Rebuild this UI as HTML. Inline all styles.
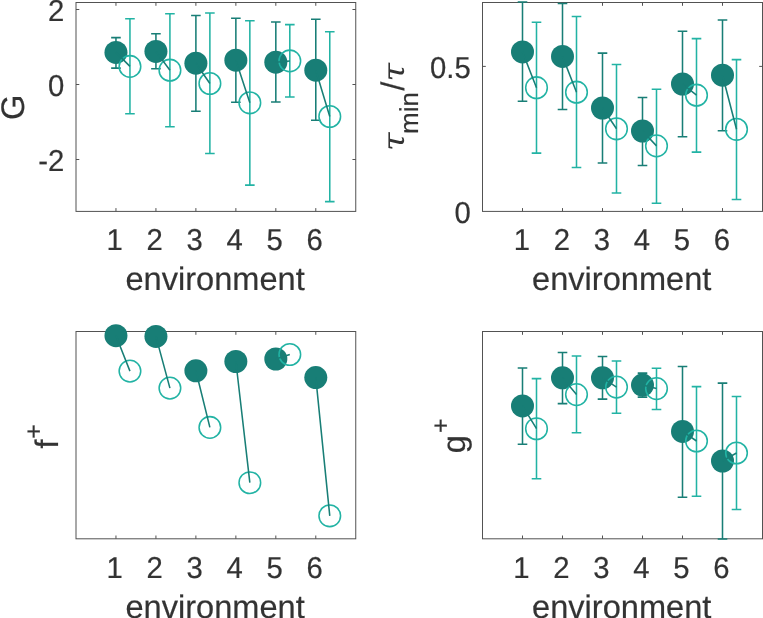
<!DOCTYPE html>
<html><head><meta charset="utf-8"><title>figure</title>
<style>
html,body{margin:0;padding:0;background:#fff;}
body{width:763px;height:618px;overflow:hidden;}
svg{display:block;font-family:"Liberation Sans",Arial,Helvetica,sans-serif;}
text{stroke:#333333;stroke-width:0.2px;text-rendering:geometricPrecision;}
</style></head><body>
<svg width="763" height="618" viewBox="0 0 763 618">
<rect width="763" height="618" fill="#fff"/>
<g id="TL">
<clipPath id="cTL"><rect x="75" y="1" width="281.75" height="211.9"/></clipPath>
<rect x="76" y="2.5" width="279.75" height="208.9" fill="none" stroke="#525252" stroke-width="1"/>
<path d="M115.96 211.4v-3.3M115.96 2.5v3.3M155.93 211.4v-3.3M155.93 2.5v3.3M195.89 211.4v-3.3M195.89 2.5v3.3M235.86 211.4v-3.3M235.86 2.5v3.3M275.82 211.4v-3.3M275.82 2.5v3.3M315.79 211.4v-3.3M315.79 2.5v3.3M76 9.5h3.3M355.75 9.5h-3.3M76 84.5h3.3M355.75 84.5h-3.3M76 159.5h3.3M355.75 159.5h-3.3" stroke="#525252" stroke-width="1" fill="none"/>
<path clip-path="url(#cTL)" d="M115.96 37.6V68.1M111.16 37.6h9.6M111.16 68.1h9.6M155.93 33.8V68.8M151.13 33.8h9.6M151.13 68.8h9.6M195.89 15.5V111.2M191.09 15.5h9.6M191.09 111.2h9.6M235.86 18.3V102.3M231.06 18.3h9.6M231.06 102.3h9.6M275.82 22V102M271.02 22h9.6M271.02 102h9.6M315.79 19.3V120.3M310.99 19.3h9.6M310.99 120.3h9.6" stroke="#187e76" stroke-width="1.55" fill="none"/>
<circle cx="115.96" cy="52.4" r="11.5" fill="#187e76"/>
<circle cx="155.93" cy="51.4" r="11.5" fill="#187e76"/>
<circle cx="195.89" cy="63.2" r="11.5" fill="#187e76"/>
<circle cx="235.86" cy="60.2" r="11.5" fill="#187e76"/>
<circle cx="275.82" cy="62.2" r="11.5" fill="#187e76"/>
<circle cx="315.79" cy="70.2" r="11.5" fill="#187e76"/>
<path clip-path="url(#cTL)" d="M129.95 18.8V113.7M125.15 18.8h9.6M125.15 113.7h9.6M169.92 13.8V126.7M165.12 13.8h9.6M165.12 126.7h9.6M209.88 13V153.4M205.08 13h9.6M205.08 153.4h9.6M249.84 20.8V185.1M245.04 20.8h9.6M245.04 185.1h9.6M289.81 24.6V97M285.01 24.6h9.6M285.01 97h9.6M329.77 31.8V201.6M324.97 31.8h9.6M324.97 201.6h9.6" stroke="#22b3a4" stroke-width="1.55" fill="none"/>
<circle cx="129.95" cy="66.4" r="10.8" fill="none" stroke="#22b3a4" stroke-width="1.55"/>
<circle cx="169.92" cy="70.2" r="10.8" fill="none" stroke="#22b3a4" stroke-width="1.55"/>
<circle cx="209.88" cy="83.5" r="10.8" fill="none" stroke="#22b3a4" stroke-width="1.55"/>
<circle cx="249.84" cy="102.8" r="10.8" fill="none" stroke="#22b3a4" stroke-width="1.55"/>
<circle cx="289.81" cy="60.9" r="10.8" fill="none" stroke="#22b3a4" stroke-width="1.55"/>
<circle cx="329.77" cy="116.5" r="10.8" fill="none" stroke="#22b3a4" stroke-width="1.55"/>
<path d="M115.96 52.4L129.95 66.4M155.93 51.4L169.92 70.2M195.89 63.2L209.88 83.5M235.86 60.2L249.84 102.8M275.82 62.2L289.81 60.9M315.79 70.2L329.77 116.5" stroke="#187e76" stroke-width="1.55" fill="none"/>
<g fill="#333333" font-size="29.3">
<text transform="translate(114.76 250.1) scale(1 1.03)" text-anchor="middle">1</text>
<text transform="translate(154.73 250.1) scale(1 1.03)" text-anchor="middle">2</text>
<text transform="translate(194.69 250.1) scale(1 1.03)" text-anchor="middle">3</text>
<text transform="translate(234.66 250.1) scale(1 1.03)" text-anchor="middle">4</text>
<text transform="translate(274.62 250.1) scale(1 1.03)" text-anchor="middle">5</text>
<text transform="translate(314.59 250.1) scale(1 1.03)" text-anchor="middle">6</text>
<text transform="translate(64.3 20.9) scale(1 1.03)" text-anchor="end">2</text>
<text transform="translate(64.3 95.9) scale(1 1.03)" text-anchor="end">0</text>
<text transform="translate(64.3 170.9) scale(1 1.03)" text-anchor="end">-2</text>
</g>
<text x="215.07" y="289.9" text-anchor="middle" font-size="32.6" fill="#333333">environment</text>
</g>
<g id="TR">
<clipPath id="cTR"><rect x="481.5" y="1" width="282" height="211.9"/></clipPath>
<rect x="482.5" y="2.5" width="280" height="208.9" fill="none" stroke="#525252" stroke-width="1"/>
<path d="M522.5 211.4v-3.3M522.5 2.5v3.3M562.5 211.4v-3.3M562.5 2.5v3.3M602.5 211.4v-3.3M602.5 2.5v3.3M642.5 211.4v-3.3M642.5 2.5v3.3M682.5 211.4v-3.3M682.5 2.5v3.3M722.5 211.4v-3.3M722.5 2.5v3.3M482.5 66.4h3.3M762.5 66.4h-3.3" stroke="#525252" stroke-width="1" fill="none"/>
<path clip-path="url(#cTR)" d="M522.5 1.9V101.3M517.7 1.9h9.6M517.7 101.3h9.6M562.5 3.4V109.5M557.7 3.4h9.6M557.7 109.5h9.6M602.5 53.1V163M597.7 53.1h9.6M597.7 163h9.6M642.5 97.5V165.5M637.7 97.5h9.6M637.7 165.5h9.6M682.5 31.3V136.8M677.7 31.3h9.6M677.7 136.8h9.6M722.5 20V130.8M717.7 20h9.6M717.7 130.8h9.6" stroke="#187e76" stroke-width="1.55" fill="none"/>
<circle cx="522.5" cy="51.9" r="11.5" fill="#187e76"/>
<circle cx="562.5" cy="56.4" r="11.5" fill="#187e76"/>
<circle cx="602.5" cy="108" r="11.5" fill="#187e76"/>
<circle cx="642.5" cy="131" r="11.5" fill="#187e76"/>
<circle cx="682.5" cy="84" r="11.5" fill="#187e76"/>
<circle cx="722.5" cy="75.2" r="11.5" fill="#187e76"/>
<path clip-path="url(#cTR)" d="M536.5 22.3V153.1M531.7 22.3h9.6M531.7 153.1h9.6M576.5 16.5V167.5M571.7 16.5h9.6M571.7 167.5h9.6M616.5 64.4V193M611.7 64.4h9.6M611.7 193h9.6M656.5 89.2V203.3M651.7 89.2h9.6M651.7 203.3h9.6M696.5 38.6V152.1M691.7 38.6h9.6M691.7 152.1h9.6M736.5 59.6V199.5M731.7 59.6h9.6M731.7 199.5h9.6" stroke="#22b3a4" stroke-width="1.55" fill="none"/>
<circle cx="536.5" cy="87.7" r="10.8" fill="none" stroke="#22b3a4" stroke-width="1.55"/>
<circle cx="576.5" cy="92.2" r="10.8" fill="none" stroke="#22b3a4" stroke-width="1.55"/>
<circle cx="616.5" cy="128.8" r="10.8" fill="none" stroke="#22b3a4" stroke-width="1.55"/>
<circle cx="656.5" cy="145.9" r="10.8" fill="none" stroke="#22b3a4" stroke-width="1.55"/>
<circle cx="696.5" cy="95.2" r="10.8" fill="none" stroke="#22b3a4" stroke-width="1.55"/>
<circle cx="736.5" cy="129.3" r="10.8" fill="none" stroke="#22b3a4" stroke-width="1.55"/>
<path d="M522.5 51.9L536.5 87.7M562.5 56.4L576.5 92.2M602.5 108L616.5 128.8M642.5 131L656.5 145.9M682.5 84L696.5 95.2M722.5 75.2L736.5 129.3" stroke="#187e76" stroke-width="1.55" fill="none"/>
<g fill="#333333" font-size="29.3">
<text transform="translate(521.9 250.1) scale(1 1.03)" text-anchor="middle">1</text>
<text transform="translate(561.9 250.1) scale(1 1.03)" text-anchor="middle">2</text>
<text transform="translate(601.9 250.1) scale(1 1.03)" text-anchor="middle">3</text>
<text transform="translate(641.9 250.1) scale(1 1.03)" text-anchor="middle">4</text>
<text transform="translate(681.9 250.1) scale(1 1.03)" text-anchor="middle">5</text>
<text transform="translate(721.9 250.1) scale(1 1.03)" text-anchor="middle">6</text>
<text transform="translate(470.8 77.8) scale(1 1.03)" text-anchor="end">0.5</text>
<text transform="translate(470.8 222.8) scale(1 1.03)" text-anchor="end">0</text>
</g>
<text x="621.7" y="289.9" text-anchor="middle" font-size="32.6" fill="#333333">environment</text>
</g>
<g id="BL">
<clipPath id="cBL"><rect x="75" y="330" width="281.75" height="210.3"/></clipPath>
<rect x="76" y="331.5" width="279.75" height="207.3" fill="none" stroke="#525252" stroke-width="1"/>
<path d="M115.96 538.8v-3.3M115.96 331.5v3.3M155.93 538.8v-3.3M155.93 331.5v3.3M195.89 538.8v-3.3M195.89 331.5v3.3M235.86 538.8v-3.3M235.86 331.5v3.3M275.82 538.8v-3.3M275.82 331.5v3.3M315.79 538.8v-3.3M315.79 331.5v3.3" stroke="#525252" stroke-width="1" fill="none"/>
<circle cx="115.96" cy="335.7" r="11.5" fill="#187e76"/>
<circle cx="155.93" cy="336.4" r="11.5" fill="#187e76"/>
<circle cx="195.89" cy="370.8" r="11.5" fill="#187e76"/>
<circle cx="235.86" cy="361.5" r="11.5" fill="#187e76"/>
<circle cx="275.82" cy="359" r="11.5" fill="#187e76"/>
<circle cx="315.79" cy="377.6" r="11.5" fill="#187e76"/>
<circle cx="129.95" cy="371.1" r="10.8" fill="none" stroke="#22b3a4" stroke-width="1.55"/>
<circle cx="169.92" cy="388.1" r="10.8" fill="none" stroke="#22b3a4" stroke-width="1.55"/>
<circle cx="209.88" cy="427.4" r="10.8" fill="none" stroke="#22b3a4" stroke-width="1.55"/>
<circle cx="249.84" cy="482.7" r="10.8" fill="none" stroke="#22b3a4" stroke-width="1.55"/>
<circle cx="289.81" cy="354.5" r="10.8" fill="none" stroke="#22b3a4" stroke-width="1.55"/>
<circle cx="329.77" cy="515.8" r="10.8" fill="none" stroke="#22b3a4" stroke-width="1.55"/>
<path d="M115.96 335.7L129.95 371.1M155.93 336.4L169.92 388.1M195.89 370.8L209.88 427.4M235.86 361.5L249.84 482.7M275.82 359L289.81 354.5M315.79 377.6L329.77 515.8" stroke="#187e76" stroke-width="1.55" fill="none"/>
<g fill="#333333" font-size="29.3">
<text transform="translate(114.76 578) scale(1 1.03)" text-anchor="middle">1</text>
<text transform="translate(154.73 578) scale(1 1.03)" text-anchor="middle">2</text>
<text transform="translate(194.69 578) scale(1 1.03)" text-anchor="middle">3</text>
<text transform="translate(234.66 578) scale(1 1.03)" text-anchor="middle">4</text>
<text transform="translate(274.62 578) scale(1 1.03)" text-anchor="middle">5</text>
<text transform="translate(314.59 578) scale(1 1.03)" text-anchor="middle">6</text>
</g>
<text x="215.07" y="617.8" text-anchor="middle" font-size="32.6" fill="#333333">environment</text>
</g>
<g id="BR">
<clipPath id="cBR"><rect x="481.5" y="330" width="282" height="210.3"/></clipPath>
<rect x="482.5" y="331.5" width="280" height="207.3" fill="none" stroke="#525252" stroke-width="1"/>
<path d="M522.5 538.8v-3.3M522.5 331.5v3.3M562.5 538.8v-3.3M562.5 331.5v3.3M602.5 538.8v-3.3M602.5 331.5v3.3M642.5 538.8v-3.3M642.5 331.5v3.3M682.5 538.8v-3.3M682.5 331.5v3.3M722.5 538.8v-3.3M722.5 331.5v3.3" stroke="#525252" stroke-width="1" fill="none"/>
<path clip-path="url(#cBR)" d="M522.5 368V444.2M517.7 368h9.6M517.7 444.2h9.6M562.5 352.5V403.6M557.7 352.5h9.6M557.7 403.6h9.6M602.5 356.5V399.1M597.7 356.5h9.6M597.7 399.1h9.6M642.5 373.1V397.1M637.7 373.1h9.6M637.7 397.1h9.6M682.5 366.5V497.2M677.7 366.5h9.6M677.7 497.2h9.6M722.5 383.1V539M717.7 383.1h9.6M717.7 539h9.6" stroke="#187e76" stroke-width="1.55" fill="none"/>
<circle cx="522.5" cy="405.9" r="11.5" fill="#187e76"/>
<circle cx="562.5" cy="377.8" r="11.5" fill="#187e76"/>
<circle cx="602.5" cy="377.8" r="11.5" fill="#187e76"/>
<circle cx="642.5" cy="385.1" r="11.5" fill="#187e76"/>
<circle cx="682.5" cy="431.4" r="11.5" fill="#187e76"/>
<circle cx="722.5" cy="461" r="11.5" fill="#187e76"/>
<path clip-path="url(#cBR)" d="M536.5 378.6V478.7M531.7 378.6h9.6M531.7 478.7h9.6M576.5 356V432.7M571.7 356h9.6M571.7 432.7h9.6M616.5 361V413.2M611.7 361h9.6M611.7 413.2h9.6M656.5 368.3V409.4M651.7 368.3h9.6M651.7 409.4h9.6M696.5 386.6V496.2M691.7 386.6h9.6M691.7 496.2h9.6M736.5 396.4V509.4M731.7 396.4h9.6M731.7 509.4h9.6" stroke="#22b3a4" stroke-width="1.55" fill="none"/>
<circle cx="536.5" cy="428.7" r="10.8" fill="none" stroke="#22b3a4" stroke-width="1.55"/>
<circle cx="576.5" cy="394.6" r="10.8" fill="none" stroke="#22b3a4" stroke-width="1.55"/>
<circle cx="616.5" cy="387.1" r="10.8" fill="none" stroke="#22b3a4" stroke-width="1.55"/>
<circle cx="656.5" cy="388.6" r="10.8" fill="none" stroke="#22b3a4" stroke-width="1.55"/>
<circle cx="696.5" cy="441" r="10.8" fill="none" stroke="#22b3a4" stroke-width="1.55"/>
<circle cx="736.5" cy="453" r="10.8" fill="none" stroke="#22b3a4" stroke-width="1.55"/>
<path d="M522.5 405.9L536.5 428.7M562.5 377.8L576.5 394.6M602.5 377.8L616.5 387.1M642.5 385.1L656.5 388.6M682.5 431.4L696.5 441M722.5 461L736.5 453" stroke="#187e76" stroke-width="1.55" fill="none"/>
<g fill="#333333" font-size="29.3">
<text transform="translate(521.3 578) scale(1 1.03)" text-anchor="middle">1</text>
<text transform="translate(561.3 578) scale(1 1.03)" text-anchor="middle">2</text>
<text transform="translate(601.3 578) scale(1 1.03)" text-anchor="middle">3</text>
<text transform="translate(641.3 578) scale(1 1.03)" text-anchor="middle">4</text>
<text transform="translate(681.3 578) scale(1 1.03)" text-anchor="middle">5</text>
<text transform="translate(721.3 578) scale(1 1.03)" text-anchor="middle">6</text>
</g>
<text x="621.7" y="617.8" text-anchor="middle" font-size="32.6" fill="#333333">environment</text>
</g>
<text transform="translate(24.1 107.3) rotate(-90)" text-anchor="middle" font-size="32.6" fill="#333333">G</text>
<g fill="#333333" font-size="32.6">
<text transform="translate(404 151) rotate(-90) scale(1.12 1)" font-family="DejaVu Serif, Liberation Serif, serif" font-style="italic" font-size="30" style="stroke:none">τ</text>
<text transform="translate(418 134) rotate(-90)" font-size="26">min</text>
<text transform="translate(404 90.8) rotate(-90)">/</text>
<text transform="translate(404 81.4) rotate(-90) scale(1.12 1)" font-family="DejaVu Serif, Liberation Serif, serif" font-style="italic" font-size="30" style="stroke:none">τ</text>
</g><text transform="translate(57.8 448.5) rotate(-90)" font-size="32.6" fill="#333333">f<tspan font-size="25" dy="-16" dx="0.8">+</tspan></text>
<text transform="translate(465 453.3) rotate(-90)" font-size="32.6" fill="#333333">g<tspan font-size="25" dy="-16" dx="2.3">+</tspan></text>
</svg>
</body></html>
